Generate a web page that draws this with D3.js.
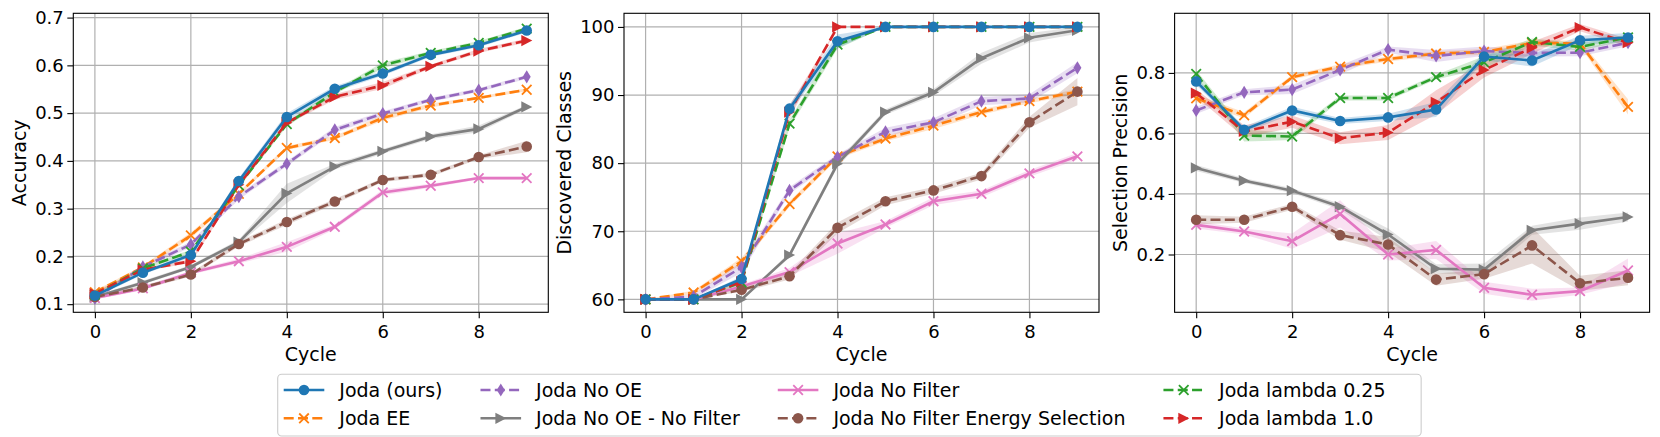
<!DOCTYPE html>
<html>
<head>
<meta charset="utf-8">
<script src="https://cdn.jsdelivr.net/npm/d3@7"></script>
<style>
 body { margin:0; background:#ffffff; }
 text { font-family:"DejaVu Sans", sans-serif; fill:#000; }
</style>
</head>
<body>
<script>
// ---- data ----
var cycles = [0,1,2,3,4,5,6,7,8,9];
var names = ["Joda (ours)", "Joda EE", "Joda No OE", "Joda No OE - No Filter",
             "Joda No Filter", "Joda No Filter Energy Selection", "Joda lambda 0.25", "Joda lambda 1.0"];
var colors = ["#1f77b4","#ff7f0e","#9467bd","#7f7f7f","#e377c2","#8c564b","#2ca02c","#d62728"];
var dashed = [false, true, true, false, false, true, true, true];
var markers = ["o","x","d",">","x","o","x",">"];

var accuracy = [
  [0.118,0.166,0.203,0.358,0.492,0.551,0.583,0.622,0.642,0.673],
  [0.125,0.177,0.244,0.331,0.427,0.448,0.490,0.516,0.532,0.549],
  [0.112,0.178,0.225,0.325,0.394,0.465,0.499,0.528,0.548,0.576],
  [0.115,0.145,0.178,0.230,0.332,0.388,0.420,0.451,0.467,0.513],
  [0.113,0.133,0.166,0.190,0.220,0.262,0.334,0.348,0.364,0.364],
  [0.115,0.135,0.162,0.226,0.272,0.315,0.360,0.371,0.408,0.430],
  [0.120,0.175,0.210,0.349,0.477,0.544,0.600,0.626,0.647,0.677],
  [0.122,0.172,0.190,0.350,0.480,0.534,0.558,0.598,0.630,0.652]
];
var accuracyBand = [
  [0.004,0.004,0.005,0.006,0.008,0.006,0.005,0.004,0.004,0.004],
  [0.003,0.004,0.006,0.004,0.004,0.004,0.006,0.004,0.003,0.003],
  [0.003,0.004,0.006,0.006,0.005,0.006,0.005,0.004,0.004,0.004],
  [0.003,0.004,0.004,0.005,0.020,0.006,0.005,0.005,0.007,0.004],
  [0.003,0.004,0.004,0.005,0.010,0.005,0.006,0.004,0.003,0.003],
  [0.003,0.004,0.004,0.005,0.006,0.005,0.004,0.004,0.004,0.012],
  [0.003,0.003,0.004,0.005,0.005,0.005,0.006,0.004,0.004,0.004],
  [0.004,0.003,0.004,0.005,0.004,0.006,0.007,0.004,0.004,0.004]
];

var classes = [
  [60,60,63.0,88.0,97.9,100,100,100,100,100],
  [60,61.0,65.6,74.0,81.0,83.6,85.5,87.5,89.1,90.5],
  [60,60.4,64.7,76.0,80.9,84.6,86.0,89.1,89.5,94.0],
  [60,60,60,66.5,79.9,87.5,90.4,95.4,98.4,99.5],
  [60,60,61.9,64.0,68.2,71.0,74.4,75.5,78.5,81.0],
  [60,60,61.4,63.4,70.5,74.4,76.0,78.1,86.0,90.5],
  [60,60,62.5,85.8,97.4,100,100,100,100,100],
  [60,60,62.6,87.5,100,100,100,100,100,100]
];
var classesBand = [
  [0,0,0.4,0.6,1.0,0,0,0,0,0],
  [0,0.3,0.5,0.4,0.4,0.4,0.5,0.4,0.3,0.4],
  [0,0.3,0.8,0.5,0.4,0.6,0.6,0.6,0.6,0.8],
  [0,0,0,0.4,0.5,0.4,0.5,0.8,0.7,0.5],
  [0,0,0.3,0.6,1.5,0.5,0.6,0.5,0.5,0.5],
  [0,0,0.3,0.5,0.8,0.6,0.5,0.5,0.8,2.0],
  [0,0,0.4,0.6,0.6,0,0,0,0,0],
  [0,0,0.4,1.0,0,0,0,0,0,0]
];

var precision = [
  [0.772,0.612,0.676,0.641,0.653,0.679,0.854,0.841,0.908,0.917],
  [0.716,0.660,0.786,0.821,0.846,0.864,0.869,0.899,0.897,0.688],
  [0.676,0.736,0.745,0.810,0.877,0.856,0.872,0.866,0.867,0.900],
  [0.486,0.444,0.411,0.358,0.266,0.153,0.150,0.280,0.302,0.324],
  [0.298,0.276,0.244,0.334,0.200,0.215,0.090,0.067,0.079,0.147],
  [0.315,0.315,0.358,0.264,0.233,0.117,0.135,0.230,0.105,0.123],
  [0.797,0.593,0.590,0.717,0.717,0.786,0.835,0.902,0.886,0.917],
  [0.733,0.607,0.639,0.584,0.603,0.703,0.810,0.883,0.950,0.900]
];
var precisionBand = [
  [0.012,0.010,0.012,0.010,0.012,0.025,0.012,0.020,0.015,0.015],
  [0.012,0.010,0.008,0.008,0.008,0.008,0.010,0.008,0.010,0.025],
  [0.012,0.010,0.015,0.015,0.010,0.020,0.015,0.012,0.012,0.012],
  [0.010,0.008,0.008,0.010,0.020,0.015,0.020,0.015,0.020,0.015],
  [0.012,0.010,0.025,0.045,0.020,0.030,0.020,0.020,0.012,0.040],
  [0.015,0.010,0.010,0.015,0.025,0.020,0.015,0.060,0.025,0.025],
  [0.012,0.020,0.012,0.008,0.008,0.008,0.020,0.012,0.012,0.010],
  [0.012,0.020,0.020,0.020,0.025,0.040,0.025,0.020,0.012,0.012]
];

var xTicks = [0,2,4,6,8];
var accTicks = [0.1,0.2,0.3,0.4,0.5,0.6,0.7];
var classTicks = [60,70,80,90,100];
var precTicks = [0.2,0.4,0.6,0.8];

// ---- layout ----
var W = 1660, H = 437;
var plotTop = 13.3, ph = 299, pw = 475;
var svg = d3.select("body").append("svg").attr("width", W).attr("height", H);

var panels = [
  {left:73.3,  label:"Accuracy",            vals:accuracy,  band:accuracyBand,  dom:[0.083,0.709], ticks:accTicks,   fmt:d3.format(".1f")},
  {left:624,   label:"Discovered Classes",  vals:classes,   band:classesBand,   dom:[58.1,102.0],  ticks:classTicks, fmt:d3.format("d")},
  {left:1174.6,label:"Selection Precision", vals:precision, band:precisionBand, dom:[0.009,0.997], ticks:precTicks,  fmt:d3.format(".1f")}
];

var drawOrder = [1,2,3,4,5,6,7,0];

function marker(g, type, x, y, c) {
  if (type == "o") {
    g.append("circle").attr("cx", x).attr("cy", y).attr("r", 5.3).attr("fill", c);
  } else if (type == "x") {
    var s = 4.8;
    g.append("path").attr("d", "M"+(x-s)+","+(y-s)+"L"+(x+s)+","+(y+s)+"M"+(x-s)+","+(y+s)+"L"+(x+s)+","+(y-s))
      .attr("stroke", c).attr("stroke-width", 1.8).attr("fill", "none");
  } else if (type == "d") {
    g.append("path").attr("d", "M"+x+","+(y-6.6)+"L"+(x+4)+","+y+"L"+x+","+(y+6.6)+"L"+(x-4)+","+y+"Z")
      .attr("fill", c);
  } else if (type == ">") {
    g.append("path").attr("d", "M"+(x+5.6)+","+y+"L"+(x-5.4)+","+(y-5.6)+"L"+(x-5.4)+","+(y+5.6)+"Z")
      .attr("fill", c);
  }
}

panels.forEach(function(p) {
  var x = d3.scaleLinear().domain([-0.45, 9.45]).range([p.left, p.left + pw]);
  var y = d3.scaleLinear().domain(p.dom).range([plotTop + ph, plotTop]);
  var g = svg.append("g");

  // grid
  g.selectAll("line.gx").data(xTicks).enter().append("line")
    .attr("x1", function(d){return x(d);}).attr("x2", function(d){return x(d);})
    .attr("y1", plotTop).attr("y2", plotTop + ph)
    .attr("stroke", "#b0b0b0").attr("stroke-width", 1.2);
  g.selectAll("line.gy").data(p.ticks).enter().append("line")
    .attr("y1", function(d){return y(d);}).attr("y2", function(d){return y(d);})
    .attr("x1", p.left).attr("x2", p.left + pw)
    .attr("stroke", "#b0b0b0").attr("stroke-width", 1.2);

  // bands
  drawOrder.forEach(function(i) {
    var area = d3.area()
      .x(function(d, k){return x(cycles[k]);})
      .y0(function(d, k){return y(p.vals[i][k] - p.band[i][k]);})
      .y1(function(d, k){return y(p.vals[i][k] + p.band[i][k]);});
    g.append("path").datum(p.vals[i]).attr("d", area)
      .attr("fill", colors[i]).attr("fill-opacity", 0.22).attr("stroke", "none");
  });

  // lines + markers
  drawOrder.forEach(function(i) {
    var line = d3.line()
      .x(function(d, k){return x(cycles[k]);})
      .y(function(d){return y(d);});
    g.append("path").datum(p.vals[i]).attr("d", line)
      .attr("fill", "none").attr("stroke", colors[i]).attr("stroke-width", 2.6)
      .attr("stroke-dasharray", dashed[i] ? "10,4.3" : null);
    var mg = g.append("g");
    p.vals[i].forEach(function(v, k) { marker(mg, markers[i], x(cycles[k]), y(v), colors[i]); });
  });

  // axes
  var ax = g.append("g").attr("transform", "translate(0," + (plotTop + ph) + ")")
    .call(d3.axisBottom(x).tickValues(xTicks).tickSize(6).tickPadding(6.5).tickFormat(d3.format("d")));
  var ay = g.append("g").attr("transform", "translate(" + p.left + ",0)")
    .call(d3.axisLeft(y).tickValues(p.ticks).tickSize(6).tickPadding(3.5).tickFormat(p.fmt));
  [ax, ay].forEach(function(a) {
    a.select(".domain").remove();
    a.selectAll("line").attr("stroke", "#000").attr("stroke-width", 1.1);
    a.selectAll("text").style("font-size", "18px").style("font-family", "DejaVu Sans");
  });
  g.append("rect").attr("x", p.left).attr("y", plotTop).attr("width", pw).attr("height", ph)
    .attr("fill", "none").attr("stroke", "#000").attr("stroke-width", 1.1);

  // labels
  var maxW = 0;
  ay.selectAll("text").each(function(){ maxW = Math.max(maxW, this.getComputedTextLength()); });
  var lx = p.left - (6 + 3.5 + maxW + 16);
  g.append("text").attr("transform", "translate(" + lx + "," + (plotTop + ph / 2) + ") rotate(-90)")
    .attr("text-anchor", "middle").attr("dominant-baseline", "central")
    .style("font-size", "19px").text(p.label);
  g.append("text").attr("x", p.left + pw / 2).attr("y", 361)
    .attr("text-anchor", "middle").style("font-size", "19px").text("Cycle");
});

// ---- legend ----
var F = 19, handle = 40.6, textGap = 15;
var lg = svg.append("g");
var box = lg.append("rect");
var rowsY = [390, 418.3];
var colX = 283.7;
var nCols = 4;
for (var c = 0; c < nCols; c++) {
  var widest = 0;
  for (var r = 0; r < 2; r++) {
    var i = c * 2 + r;
    var yy = rowsY[r];
    lg.append("line").attr("x1", colX).attr("x2", colX + handle).attr("y1", yy).attr("y2", yy)
      .attr("stroke", colors[i]).attr("stroke-width", 2.6)
      .attr("stroke-dasharray", dashed[i] ? "10,4.3" : null);
    marker(lg, markers[i], colX + handle / 2, yy, colors[i]);
    var t = lg.append("text").attr("x", colX + handle + textGap).attr("y", yy)
      .attr("dominant-baseline", "central").style("font-size", F + "px").text(names[i]);
    widest = Math.max(widest, t.node().getComputedTextLength());
  }
  colX += handle + textGap + widest + (c < nCols - 1 ? 2 * F : 0);
}
// the reference box runs a little past the last column
box.attr("x", 277.7).attr("y", 374.3).attr("width", colX + 0.4 * F + 28 - 277.7).attr("height", 61.7)
  .attr("rx", 4).attr("fill", "#fff").attr("stroke", "#cccccc").attr("stroke-width", 1.1);
</script>
</body>
</html>
